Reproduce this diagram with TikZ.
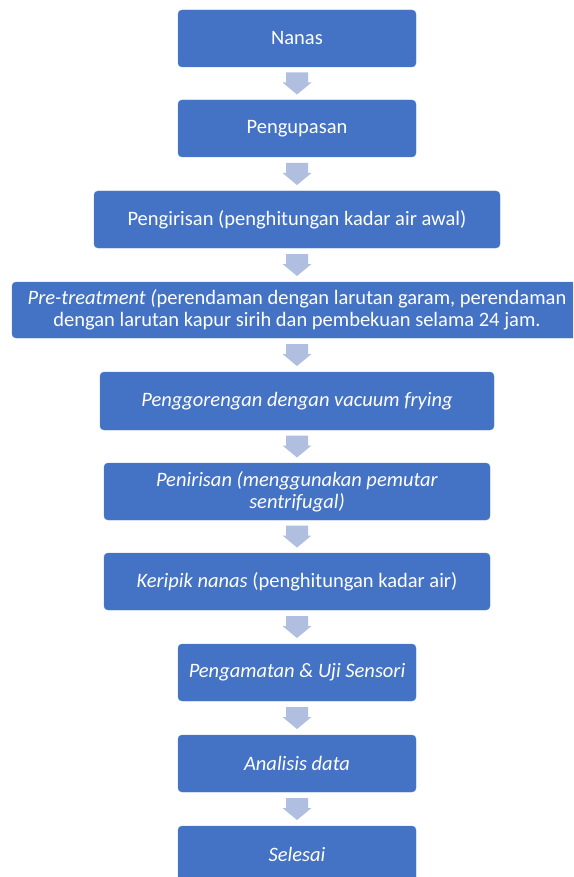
\documentclass[tikz,border=0pt]{standalone}
\usepackage{fontspec}
\setmainfont{Carlito}
\usetikzlibrary{calc}
\definecolor{boxblue}{HTML}{4472C4}
\definecolor{arrowcol}{HTML}{B0BEE0}
\tikzset{
  stepbox/.style={fill=boxblue, draw=boxblue!90!white, rounded corners=4pt, text=white, align=center, inner sep=0pt, font=\fontsize{20.5}{22}\selectfont},
}
\newcommand\barrow[2]{%
  \path let \p1=(#1.south), \p2=(#2.north) in coordinate (m) at (297pt,{(\y1+\y2)/2});
  \fill[arrowcol] ($(m)+(-11pt,11pt)$) -- ($(m)+(11pt,11pt)$) -- ($(m)+(11pt,1pt)$) -- ($(m)+(14.5pt,1pt)$) -- ($(m)+(0pt,-11pt)$) -- ($(m)+(-14.5pt,1pt)$) -- ($(m)+(-11pt,1pt)$) -- cycle;
}
\begin{document}
\begin{tikzpicture}[x=1pt,y=-1pt]
\useasboundingbox (0,0) rectangle (573,877);
\clip (0,0) rectangle (573,877);
\node[stepbox, minimum width=238pt, minimum height=57pt] (n1) at (297,38.5) {Nanas};
\node[stepbox, minimum width=238pt, minimum height=57pt] (n2) at (297,128.5) {Pengupasan};
\node[stepbox, minimum width=406pt, minimum height=57pt] (n3) at (297,219.5) {Pengirisan (penghitungan kadar air awal)};
\node[stepbox, minimum width=570pt, minimum height=56pt] (n4) at (297,310) {\textit{Pre-treatment (}perendaman dengan larutan garam, perendaman\\dengan larutan kapur sirih dan pembekuan selama 24 jam.};
\node[stepbox, minimum width=394pt, minimum height=58pt] (n5) at (297,401) {\textit{Penggorengan dengan vacuum frying}};
\node[stepbox, minimum width=386pt, minimum height=57pt] (n6) at (297,491.5) {\textit{Penirisan (menggunakan pemutar}\\\textit{sentrifugal)}};
\node[stepbox, minimum width=386pt, minimum height=57pt] (n7) at (297,581.5) {\textit{Keripik nanas} (penghitungan kadar air)};
\node[stepbox, minimum width=238pt, minimum height=57pt] (n8) at (297,672.5) {\textit{Pengamatan \& Uji Sensori}};
\node[stepbox, minimum width=238pt, minimum height=57pt] (n9) at (297,763.5) {\textit{Analisis data}};
\node[stepbox, minimum width=238pt, minimum height=57pt] (n10) at (297,854.5) {\textit{Selesai}};
\barrow{n1}{n2}
\barrow{n2}{n3}
\barrow{n3}{n4}
\barrow{n4}{n5}
\barrow{n5}{n6}
\barrow{n6}{n7}
\barrow{n7}{n8}
\barrow{n8}{n9}
\barrow{n9}{n10}
\end{tikzpicture}
\end{document}
